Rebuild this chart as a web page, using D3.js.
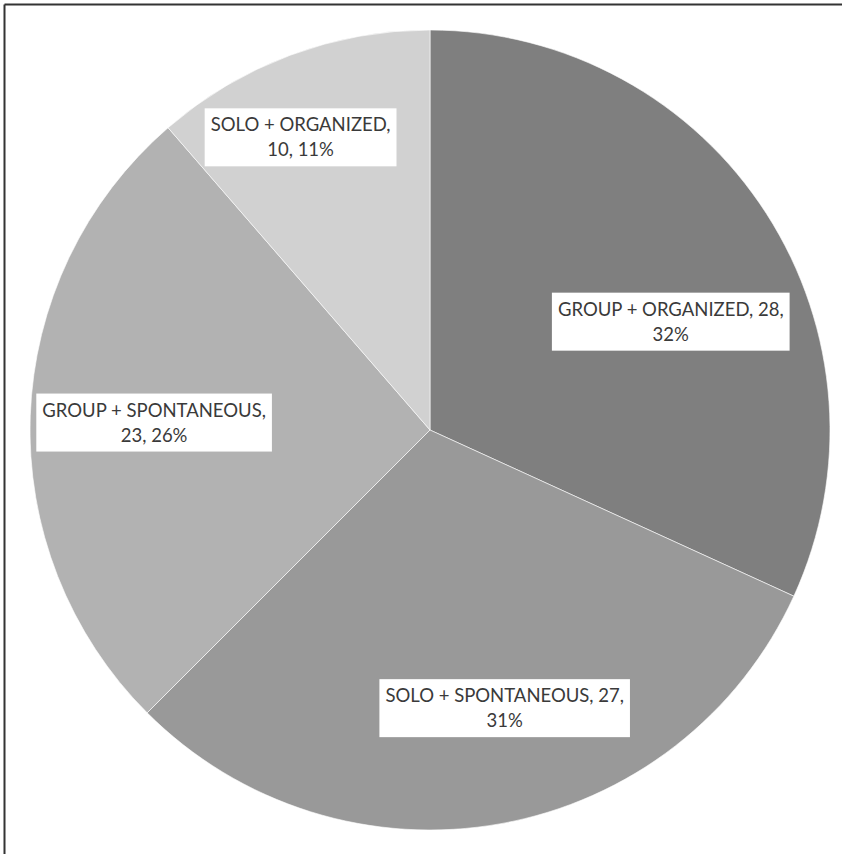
<!DOCTYPE html>
<html>
<head>
<meta charset="utf-8">
<script src="https://cdn.jsdelivr.net/npm/d3@7"></script>
<style>
  html, body { margin: 0; padding: 0; background: #fff; }
  svg { display: block; }
</style>
</head>
<body>
<svg id="chart" width="842" height="854"></svg>
<script>
// ---- data ----
const categories = ["GROUP + ORGANIZED", "SOLO + SPONTANEOUS", "GROUP + SPONTANEOUS", "SOLO + ORGANIZED"];
const values = [28, 27, 23, 10];
const colors = ["#7f7f7f", "#999999", "#b2b2b2", "#d1d1d1"];
// number of comma-separated parts placed on the first label line
const firstLineParts = [2, 2, 1, 1];

// ---- layout ----
const W = 842, H = 854;
const cx = 430, cy = 430, R = 400;
const svg = d3.select("#chart");

// frame (left and top edges visible)
svg.append("line").attr("x1", 4.5).attr("y1", 4.5).attr("x2", W).attr("y2", 4.5)
  .attr("stroke", "#333").attr("stroke-width", 2);
svg.append("line").attr("x1", 4.5).attr("y1", 4.5).attr("x2", 4.5).attr("y2", H)
  .attr("stroke", "#333").attr("stroke-width", 2);

const total = d3.sum(values);
const data = categories.map((c, i) => ({ name: c, value: values[i], color: colors[i], idx: i }));

const pie = d3.pie().value(d => d.value).sort(null);
const arcs = pie(data);
const arc = d3.arc().innerRadius(0).outerRadius(R);

const g = svg.append("g").attr("transform", `translate(${cx},${cy})`);
g.selectAll("path.slice").data(arcs).join("path")
  .attr("class", "slice")
  .attr("d", arc)
  .attr("fill", d => d.data.color)
  .attr("stroke", "#ffffff")
  .attr("stroke-opacity", 0.6)
  .attr("stroke-width", 1);

// label placement: radius fraction and angular nudge per slice (degrees)
const labelRadius = [0.66, 0.72, 0.69, 0.80];
const labelAngleNudge = [8.5, -4.8, -0.5, -3.4];

const lh = 25;
arcs.forEach((a, i) => {
  const pct = Math.round(a.data.value / total * 100);
  const parts = [a.data.name, String(a.data.value), pct + "%"];
  const l1 = parts.slice(0, firstLineParts[i]).join(", ") + ",";
  const l2 = parts.slice(firstLineParts[i]).join(", ");
  const mid = (a.startAngle + a.endAngle) / 2 + labelAngleNudge[i] * Math.PI / 180;
  const r = R * labelRadius[i];
  const x = r * Math.sin(mid), y = -r * Math.cos(mid);

  const lg = g.append("g").attr("transform", `translate(${x},${y})`);
  const rect = lg.append("rect").attr("fill", "#fff");
  const t = lg.append("text")
    .attr("text-anchor", "middle")
    .attr("font-family", "Lato, 'Open Sans', sans-serif")
    .attr("font-size", 18.5)
    .attr("fill", "#3a3a3a");
  t.append("tspan").attr("x", 0).attr("y", -lh / 2).attr("dy", "0.35em").text(l1);
  t.append("tspan").attr("x", 0).attr("y", lh / 2).attr("dy", "0.35em").text(l2);
  const bb = t.node().getBBox();
  const padX = 6, padY = 5;
  rect.attr("x", bb.x - padX).attr("y", -lh - padY + 1)
    .attr("width", bb.width + 2 * padX).attr("height", 2 * lh + 2 * padY - 2);
});
</script>
</body>
</html>
